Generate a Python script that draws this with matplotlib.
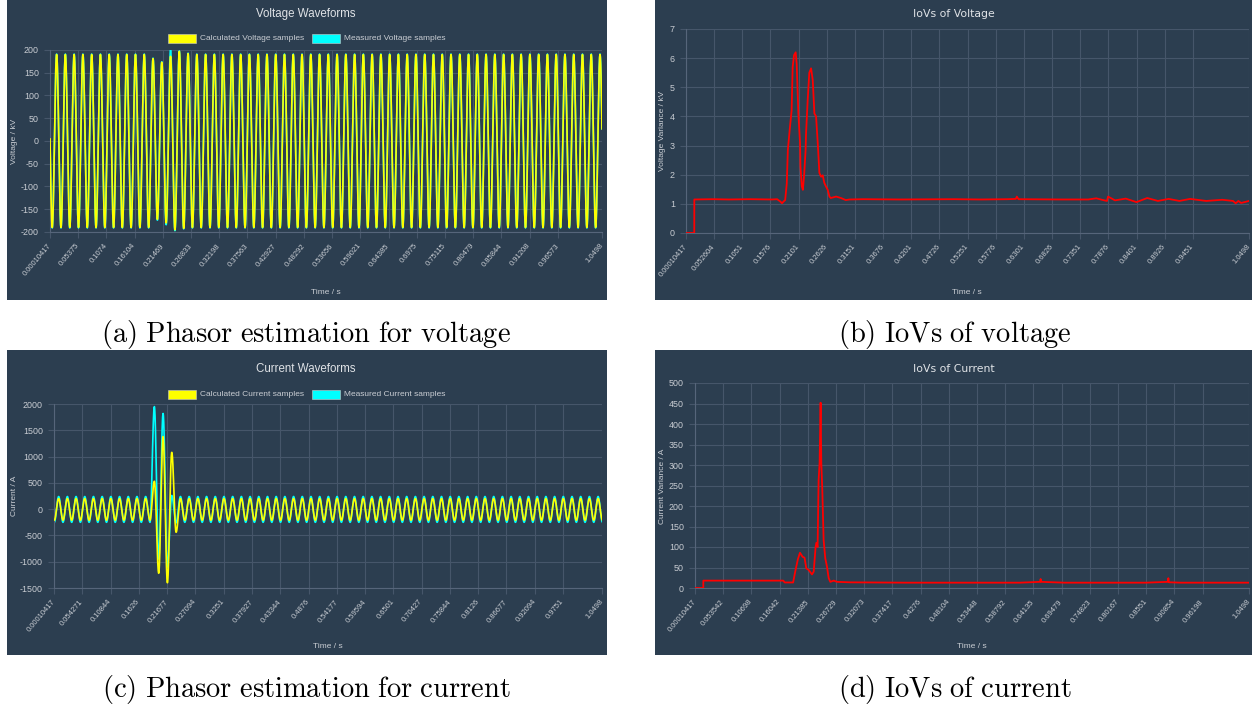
import numpy as np
import matplotlib
matplotlib.use('Agg')
import matplotlib.pyplot as plt
from matplotlib.patches import Rectangle

plt.rcParams['mathtext.fontset'] = 'cm'
plt.rcParams['font.family'] = ['Liberation Sans', 'DejaVu Sans']

# ---------------- data ----------------
T_START = 0.00010417
T_END = 1.0498
FS = 9600.0            # sample rate
F0 = 60.0              # system frequency

ticks_a = ['0.00010417', '0.05375', '0.1074', '0.16104', '0.21469', '0.26833', '0.32198',
           '0.37563', '0.42927', '0.48292', '0.53656', '0.59021', '0.64385', '0.6975',
           '0.75115', '0.80479', '0.85844', '0.91208', '0.96573', '1.0498']
ticks_b = ['0.00010417', '0.052604', '0.1051', '0.1576', '0.2101', '0.2626', '0.3151',
           '0.3676', '0.4201', '0.4726', '0.5251', '0.5776', '0.6301', '0.6826', '0.7351',
           '0.7876', '0.8401', '0.8926', '0.9451', '1.0498']
ticks_c = ['0.00010417', '0.054271', '0.10844', '0.1626', '0.21677', '0.27094', '0.3251',
           '0.37927', '0.43344', '0.4876', '0.54177', '0.59594', '0.6501', '0.70427',
           '0.75844', '0.8126', '0.86677', '0.92094', '0.9751', '1.0498']
ticks_d = ['0.00010417', '0.053542', '0.10698', '0.16042', '0.21385', '0.26729', '0.32073',
           '0.37417', '0.4276', '0.48104', '0.53448', '0.58792', '0.64135', '0.69479',
           '0.74823', '0.80167', '0.8551', '0.90854', '0.96198', '1.0498']

# Voltage waveform: amplitude of every positive / negative half cycle (kV)
V_PEAK_PHASE = 0.76     # cycle fraction of positive peaks
v_pos_calc = [190] * 11 + [181, 173, 186, 197, 192] + [190] * 47
v_neg_calc = [-190] * 12 + [-172, -180, -195, -192] + [-190] * 47
v_pos_meas = [191] * 11 + [182, 174, 200, 198, 193] + [191] * 47
v_neg_meas = [-191] * 12 + [-174, -184, -197, -193] + [-191] * 47

# Current waveform: amplitude of every positive / negative half cycle (A)
I_PEAK_PHASE = 0.54
i_pos_calc = [200] * 11 + [530, 1380, 1080] + [200] * 49
i_neg_calc = [-210] * 12 + [-1220, -1400, -440] + [-210] * 48
i_pos_meas = [240] * 11 + [1950, 1820, 260] + [240] * 49
i_neg_meas = [-250] * 12 + [-950, -1100, -260] + [-250] * 48

# IoV of voltage (kV)
iov_v_t = [0.00010417, 0.0155, 0.0156, 0.05, 0.08, 0.12, 0.16, 0.17, 0.176, 0.179, 0.182,
           0.185, 0.188, 0.190, 0.194, 0.197, 0.199, 0.2015, 0.2046, 0.2065, 0.2096, 0.2127,
           0.2135, 0.216, 0.218, 0.2206, 0.2231, 0.2239, 0.227, 0.230, 0.2333, 0.2364,
           0.2395, 0.2426, 0.2457, 0.2488, 0.252, 0.255, 0.258, 0.261, 0.2644, 0.2675,
           0.270, 0.280, 0.289, 0.298, 0.305, 0.33, 0.40, 0.50, 0.55, 0.60, 0.615, 0.617,
           0.62, 0.70, 0.75, 0.765, 0.78, 0.785, 0.787, 0.80, 0.82, 0.84, 0.86, 0.88, 0.90,
           0.92, 0.94, 0.97, 1.00, 1.02, 1.025, 1.03, 1.035, 1.0498]
iov_v = [0.0, 0.0, 1.15, 1.16, 1.15, 1.16, 1.15, 1.16, 1.08, 1.02, 1.08,
         1.13, 1.7, 2.85, 3.65, 4.2, 5.7, 6.1, 6.2, 5.8, 4.1, 3.1,
         2.28, 1.6, 1.48, 2.06, 2.85, 3.4, 4.57, 5.5, 5.65, 5.25,
         4.1, 4.0, 3.1, 2.06, 1.93, 1.98, 1.72, 1.6, 1.48, 1.25,
         1.2, 1.25, 1.2, 1.13, 1.15, 1.16, 1.15, 1.16, 1.15, 1.16, 1.17, 1.25,
         1.16, 1.15, 1.15, 1.19, 1.12, 1.1, 1.25, 1.12, 1.18, 1.06, 1.2, 1.1, 1.17,
         1.1, 1.17, 1.1, 1.14, 1.1, 1.02, 1.1, 1.03, 1.1]

# IoV of current (A)
iov_i_t = [0.00010417, 0.0158, 0.0159, 0.08, 0.1674, 0.17, 0.186, 0.19, 0.195, 0.199, 0.204,
           0.2076, 0.211, 0.2155, 0.2218, 0.225, 0.2286, 0.230, 0.2324, 0.2343, 0.2362,
           0.2381, 0.2394, 0.2413, 0.2438, 0.247, 0.2502, 0.2534, 0.2565, 0.263, 0.2692,
           0.2945, 0.40, 0.616, 0.654, 0.655, 0.656, 0.70, 0.855, 0.896, 0.897, 0.898, 0.92,
           1.0498]
iov_i = [0, 0, 18, 18, 18, 13.5, 13.5, 40, 70, 86, 76,
         74, 48, 44, 33, 40, 100, 110, 100, 263, 305,
         452, 305, 240, 117, 72, 52, 24, 15, 18, 15,
         13.8, 13, 13, 15, 22, 15, 13, 13, 15, 24, 14, 13,
         13]

# ---------------- helpers ----------------
W, H = 1255, 709
BG = '#2c3e50'
GRID = '#46566a'
TXT = '#c9cdd3'
TITLE = '#e0e3e7'


def fr(x0, y0, x1, y1):
    return [x0 / W, 1 - y1 / H, (x1 - x0) / W, (y1 - y0) / H]


def build_wave(pos, neg, peak_phase, t):
    n = np.arange(len(pos))
    tp = (n + peak_phase) / F0
    tn = (n + peak_phase - 0.5) / F0
    tk = np.concatenate([[tp[0] - 1 / F0], tp, tn, [tn[-1] + 1 / F0]])
    ak = np.concatenate([[pos[0]], pos, neg, [neg[-1]]]).astype(float)
    o = np.argsort(tk)
    tk, ak = tk[o], ak[o]
    idx = np.clip(np.searchsorted(tk, t) - 1, 0, len(tk) - 2)
    s = (t - tk[idx]) / (tk[idx + 1] - tk[idx])
    w = (1 - np.cos(np.pi * s)) / 2
    return ak[idx] * (1 - w) + ak[idx + 1] * w


fig = plt.figure(figsize=(W / 100, H / 100), dpi=100)
fig.patch.set_facecolor('white')

# panel backgrounds
for (x0, y0, x1, y1) in [(7, 0, 607, 300), (655, 0, 1252, 300),
                         (7, 350, 607, 655), (655, 350, 1252, 655)]:
    fig.patches.append(Rectangle((x0 / W, 1 - y1 / H), (x1 - x0) / W, (y1 - y0) / H,
                                 transform=fig.transFigure, facecolor=BG,
                                 edgecolor='none', zorder=-5))


def style(ax, labels, ylim, yticks):
    ax.set_zorder(1)
    ax.set_facecolor('none')
    ax.set_xlim(T_START, T_END)
    ax.set_ylim(*ylim)
    ax.set_xticks([float(v) for v in labels])
    ax.set_xticklabels(labels, rotation=50, ha='right', va='center',
                       rotation_mode='anchor', fontsize=5.5, color=TXT)
    ax.set_yticks(yticks)
    ax.set_yticklabels([str(v) for v in yticks], fontsize=6.4, color=TXT)
    ax.tick_params(axis='x', length=4, color=GRID, width=0.8, pad=5)
    ax.tick_params(axis='y', length=4, color=GRID, width=0.8, pad=4)
    ax.grid(True, color=GRID, lw=0.8, zorder=0)
    ax.set_axisbelow(True)
    for k, s in ax.spines.items():
        s.set_visible(k in ('left', 'bottom'))
        s.set_color('#56657a')
        s.set_linewidth(0.8)


t = np.arange(0, T_END * FS) / FS + T_START
t = t[t <= T_END + 1e-9]

# ---------- (a) voltage waveforms ----------
axa = fig.add_axes(fr(50, 50, 602, 232))
style(axa, ticks_a, (-200, 200), list(range(-200, 201, 50)))
axa.plot(t, build_wave(v_pos_meas, v_neg_meas, V_PEAK_PHASE, t), color='#00ffff', lw=1.2, zorder=2)
axa.plot(t, build_wave(v_pos_calc, v_neg_calc, V_PEAK_PHASE, t), color='#ffff00', lw=1.2, zorder=3)

# ---------- (b) IoV voltage ----------
axb = fig.add_axes(fr(686, 29, 1249, 233))
style(axb, ticks_b, (0, 7), list(range(0, 8)))
axb.plot(iov_v_t, iov_v, color='#ff0000', lw=1.3, zorder=3)

# ---------- (c) current waveforms ----------
axc = fig.add_axes(fr(54, 404, 602, 588))
style(axc, ticks_c, (-1500, 2000), list(range(-1500, 2001, 500)))
axc.plot(t, build_wave(i_pos_meas, i_neg_meas, I_PEAK_PHASE, t), color='#00ffff', lw=1.2, zorder=2)
axc.plot(t, build_wave(i_pos_calc, i_neg_calc, I_PEAK_PHASE, t), color='#ffff00', lw=1.2, zorder=3)

# ---------- (d) IoV current ----------
axd = fig.add_axes(fr(695, 383, 1249, 588))
style(axd, ticks_d, (0, 500), list(range(0, 501, 50)))
axd.plot(iov_i_t, iov_i, color='#ff0000', lw=1.3, zorder=3)


def ftext(x, y, s, **kw):
    return fig.text(x / W, 1 - y / H, s, **kw)


# titles
ftext(306, 14, 'Voltage Waveforms', ha='center', va='center', fontsize=8.3, color=TITLE)
ftext(954, 14, 'IoVs of Voltage', ha='center', va='center', fontsize=7.8, color=TITLE,
      family='DejaVu Sans')
ftext(306, 369, 'Current Waveforms', ha='center', va='center', fontsize=8.3, color=TITLE)
ftext(954, 369, 'IoVs of Current', ha='center', va='center', fontsize=7.8, color=TITLE,
      family='DejaVu Sans')


# legends
def legend(y, names):
    x = 168
    for name, col in names:
        fig.patches.append(Rectangle((x / W, 1 - (y + 4.5) / H), 28 / W, 9 / H,
                                     transform=fig.transFigure, facecolor=col,
                                     edgecolor='#cccccc', lw=0.4, zorder=3))
        tx = ftext(x + 32, y, name, ha='left', va='center', fontsize=6, color=TXT)
        fig.canvas.draw()
        bb = tx.get_window_extent()
        x = bb.x1 + 8


legend(38, [('Calculated Voltage samples', '#ffff00'), ('Measured Voltage samples', '#00ffff')])
legend(394, [('Calculated Current samples', '#ffff00'), ('Measured Current samples', '#00ffff')])

# axis labels
ftext(14, 141, 'Voltage / kV', rotation=90, ha='center', va='center', fontsize=6, color=TXT)
ftext(663, 131, 'Voltage Variance / kV', rotation=90, ha='center', va='center', fontsize=6, color=TXT)
ftext(14, 496, 'Current / A', rotation=90, ha='center', va='center', fontsize=6, color=TXT)
ftext(663, 486, 'Current Variance / A', rotation=90, ha='center', va='center', fontsize=6, color=TXT)
ftext(326, 292, 'Time / s', ha='center', va='center', fontsize=6, color=TXT)
ftext(967, 292, 'Time / s', ha='center', va='center', fontsize=6, color=TXT)
ftext(328, 647, 'Time / s', ha='center', va='center', fontsize=6, color=TXT)
ftext(972, 647, 'Time / s', ha='center', va='center', fontsize=6, color=TXT)

# captions
cap_kw = dict(ha='center', va='center', fontsize=20.5, color='black')
ftext(306, 335, r'$\mathrm{(a)\ Phasor\ estimation\ for\ voltage}$', **cap_kw)
ftext(955, 335, r'$\mathrm{(b)\ IoVs\ of\ voltage}$', **cap_kw)
ftext(306, 690, r'$\mathrm{(c)\ Phasor\ estimation\ for\ current}$', **cap_kw)
ftext(955, 690, r'$\mathrm{(d)\ IoVs\ of\ current}$', **cap_kw)

fig.savefig('out.png', dpi=100, facecolor='white')
